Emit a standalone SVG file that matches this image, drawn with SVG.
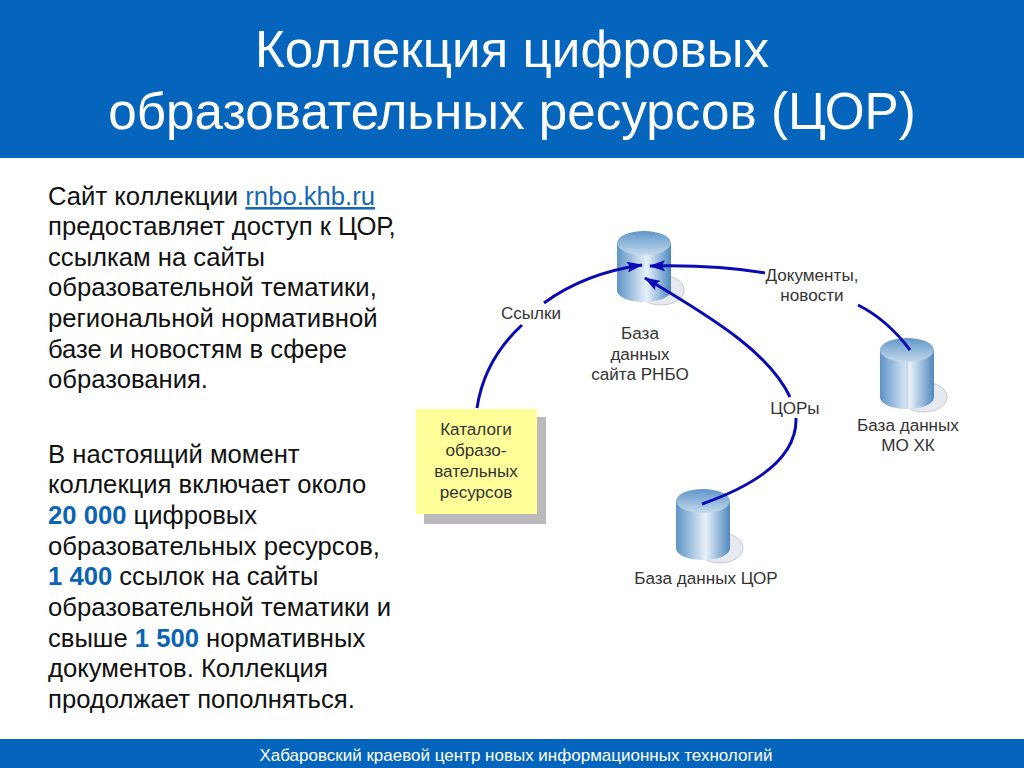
<svg xmlns="http://www.w3.org/2000/svg" width="1024" height="768" viewBox="0 0 1024 768">
<style>
text{font-family:"Liberation Sans",Arial,sans-serif}
.title{font-size:51.2px;fill:#fff;text-anchor:middle}
.body{font-size:25.65px;fill:#111}
.hl{fill:#0b63b8;font-weight:bold}
.lbl{font-size:17.1px;fill:#333;text-anchor:middle}
.conn{fill:none;stroke:#0a0ab4;stroke-width:3;stroke-linecap:butt}
.disc{fill:#e6e9f0;stroke:#c4c8d0;stroke-width:1}
.cyl{fill:url(#side)}
.top{fill:url(#topg)}
</style>
<defs>
<linearGradient id="side" x1="0" y1="0" x2="1" y2="0">
<stop offset="0" stop-color="#5d93c6"/><stop offset="0.55" stop-color="#e8f1f9"/><stop offset="1" stop-color="#4f88bf"/>
</linearGradient>
<linearGradient id="topg" x1="0" y1="0" x2="0" y2="1">
<stop offset="0" stop-color="#5f96c8"/><stop offset="1" stop-color="#c5d9ec"/>
</linearGradient>
<marker id="arrow" viewBox="0 0 16 11" refX="15" refY="5.5" markerWidth="16" markerHeight="11" markerUnits="userSpaceOnUse" orient="auto">
<path d="M0 0L16 5.500L0 11L3 5.500Z" fill="#0a0ab4"/>
</marker>
<g id="db">
<ellipse class="disc" cx="44" cy="59" rx="23" ry="15"/>
<path class="cyl" d="M0 12V59C0 66 12 71 27 71S54 66 54 59V12Z"/>
<ellipse class="top" cx="27" cy="12" rx="27" ry="12"/>
</g>
</defs>
<rect id="header" x="0" y="0" width="1024" height="158" fill="#0565bd"/>
<rect id="footer" x="0" y="739" width="1024" height="29" fill="#0565bd"/>
<g id="title">
<text class="title" x="512" y="67">Коллекция цифровых</text>
<text class="title" x="512" y="129">образовательных ресурсов (ЦОР)</text>
</g>
<text x="516" y="761" font-size="17" fill="#fff" text-anchor="middle">Хабаровский краевой центр новых информационных технологий</text>
<g id="bodytext">
<text class="body" x="48" y="205">Сайт коллекции <tspan fill="#1668b8" text-decoration="underline">rnbo.khb.ru</tspan></text>
<text class="body" x="48" y="235">предоставляет доступ к ЦОР,</text>
<text class="body" x="48" y="266">ссылкам на сайты</text>
<text class="body" x="48" y="296">образовательной тематики,</text>
<text class="body" x="48" y="327">региональной нормативной</text>
<text class="body" x="48" y="358">базе и новостям в сфере</text>
<text class="body" x="48" y="388">образования.</text>
<text class="body" x="48" y="463">В настоящий момент</text>
<text class="body" x="48" y="493">коллекция включает около</text>
<text class="body" x="48" y="524"><tspan class="hl">20 000</tspan> цифровых</text>
<text class="body" x="48" y="555">образовательных ресурсов,</text>
<text class="body" x="48" y="585"><tspan class="hl">1 400</tspan> ссылок на сайты</text>
<text class="body" x="48" y="616">образовательной тематики и</text>
<text class="body" x="48" y="647">свыше <tspan class="hl">1 500</tspan> нормативных</text>
<text class="body" x="48" y="677">документов. Коллекция</text>
<text class="body" x="48" y="708">продолжает пополняться.</text>
</g>
<g id="node-rnbo">
<use href="#db" x="617" y="231"/>
<text class="lbl" x="640" y="339">База</text>
<text class="lbl" x="640" y="360">данных</text>
<text class="lbl" x="640" y="380">сайта РНБО</text>
</g>
<g id="node-mo">
<use href="#db" x="880" y="338"/>
<line x1="907" y1="362" x2="907" y2="409" stroke="#b9c6d4" stroke-width="1"/>
<text class="lbl" x="908" y="431">База данных</text>
<text class="lbl" x="908" y="451">МО ХК</text>
</g>
<g id="node-cor">
<use href="#db" x="676" y="489"/>
<text class="lbl" x="706" y="584">База данных ЦОР</text>
</g>
<g id="node-catalog">
<rect x="424" y="417" width="122" height="107" fill="#b9b9bb"/>
<rect x="416" y="409" width="121" height="105" fill="#ffff99"/>
<text class="lbl" x="476" y="435">Каталоги</text>
<text class="lbl" x="476" y="456">образо-</text>
<text class="lbl" x="476" y="477">вательных</text>
<text class="lbl" x="476" y="498">ресурсов</text>
</g>
<g id="connectors">
<path class="conn" d="M477 408C482 375 497 348 522 325"/>
<path class="conn" marker-end="url(#arrow)" d="M544 303C570 284 600 271 642 265"/>
<path class="conn" marker-end="url(#arrow)" d="M765 273C730 267 695 265 650 266"/>
<path class="conn" d="M858 305C880 316 895 330 910 350"/>
<path class="conn" marker-end="url(#arrow)" d="M790 397C770 355 720 322 645 278"/>
<path class="conn" d="M796 418C797 450 770 480 702 504"/>
</g>
<g id="connector-labels">
<text class="lbl" x="531" y="319">Ссылки</text>
<text class="lbl" x="812" y="281">Документы,</text>
<text class="lbl" x="812" y="301">новости</text>
<text class="lbl" x="795" y="414">ЦОРы</text>
</g>
</svg>
